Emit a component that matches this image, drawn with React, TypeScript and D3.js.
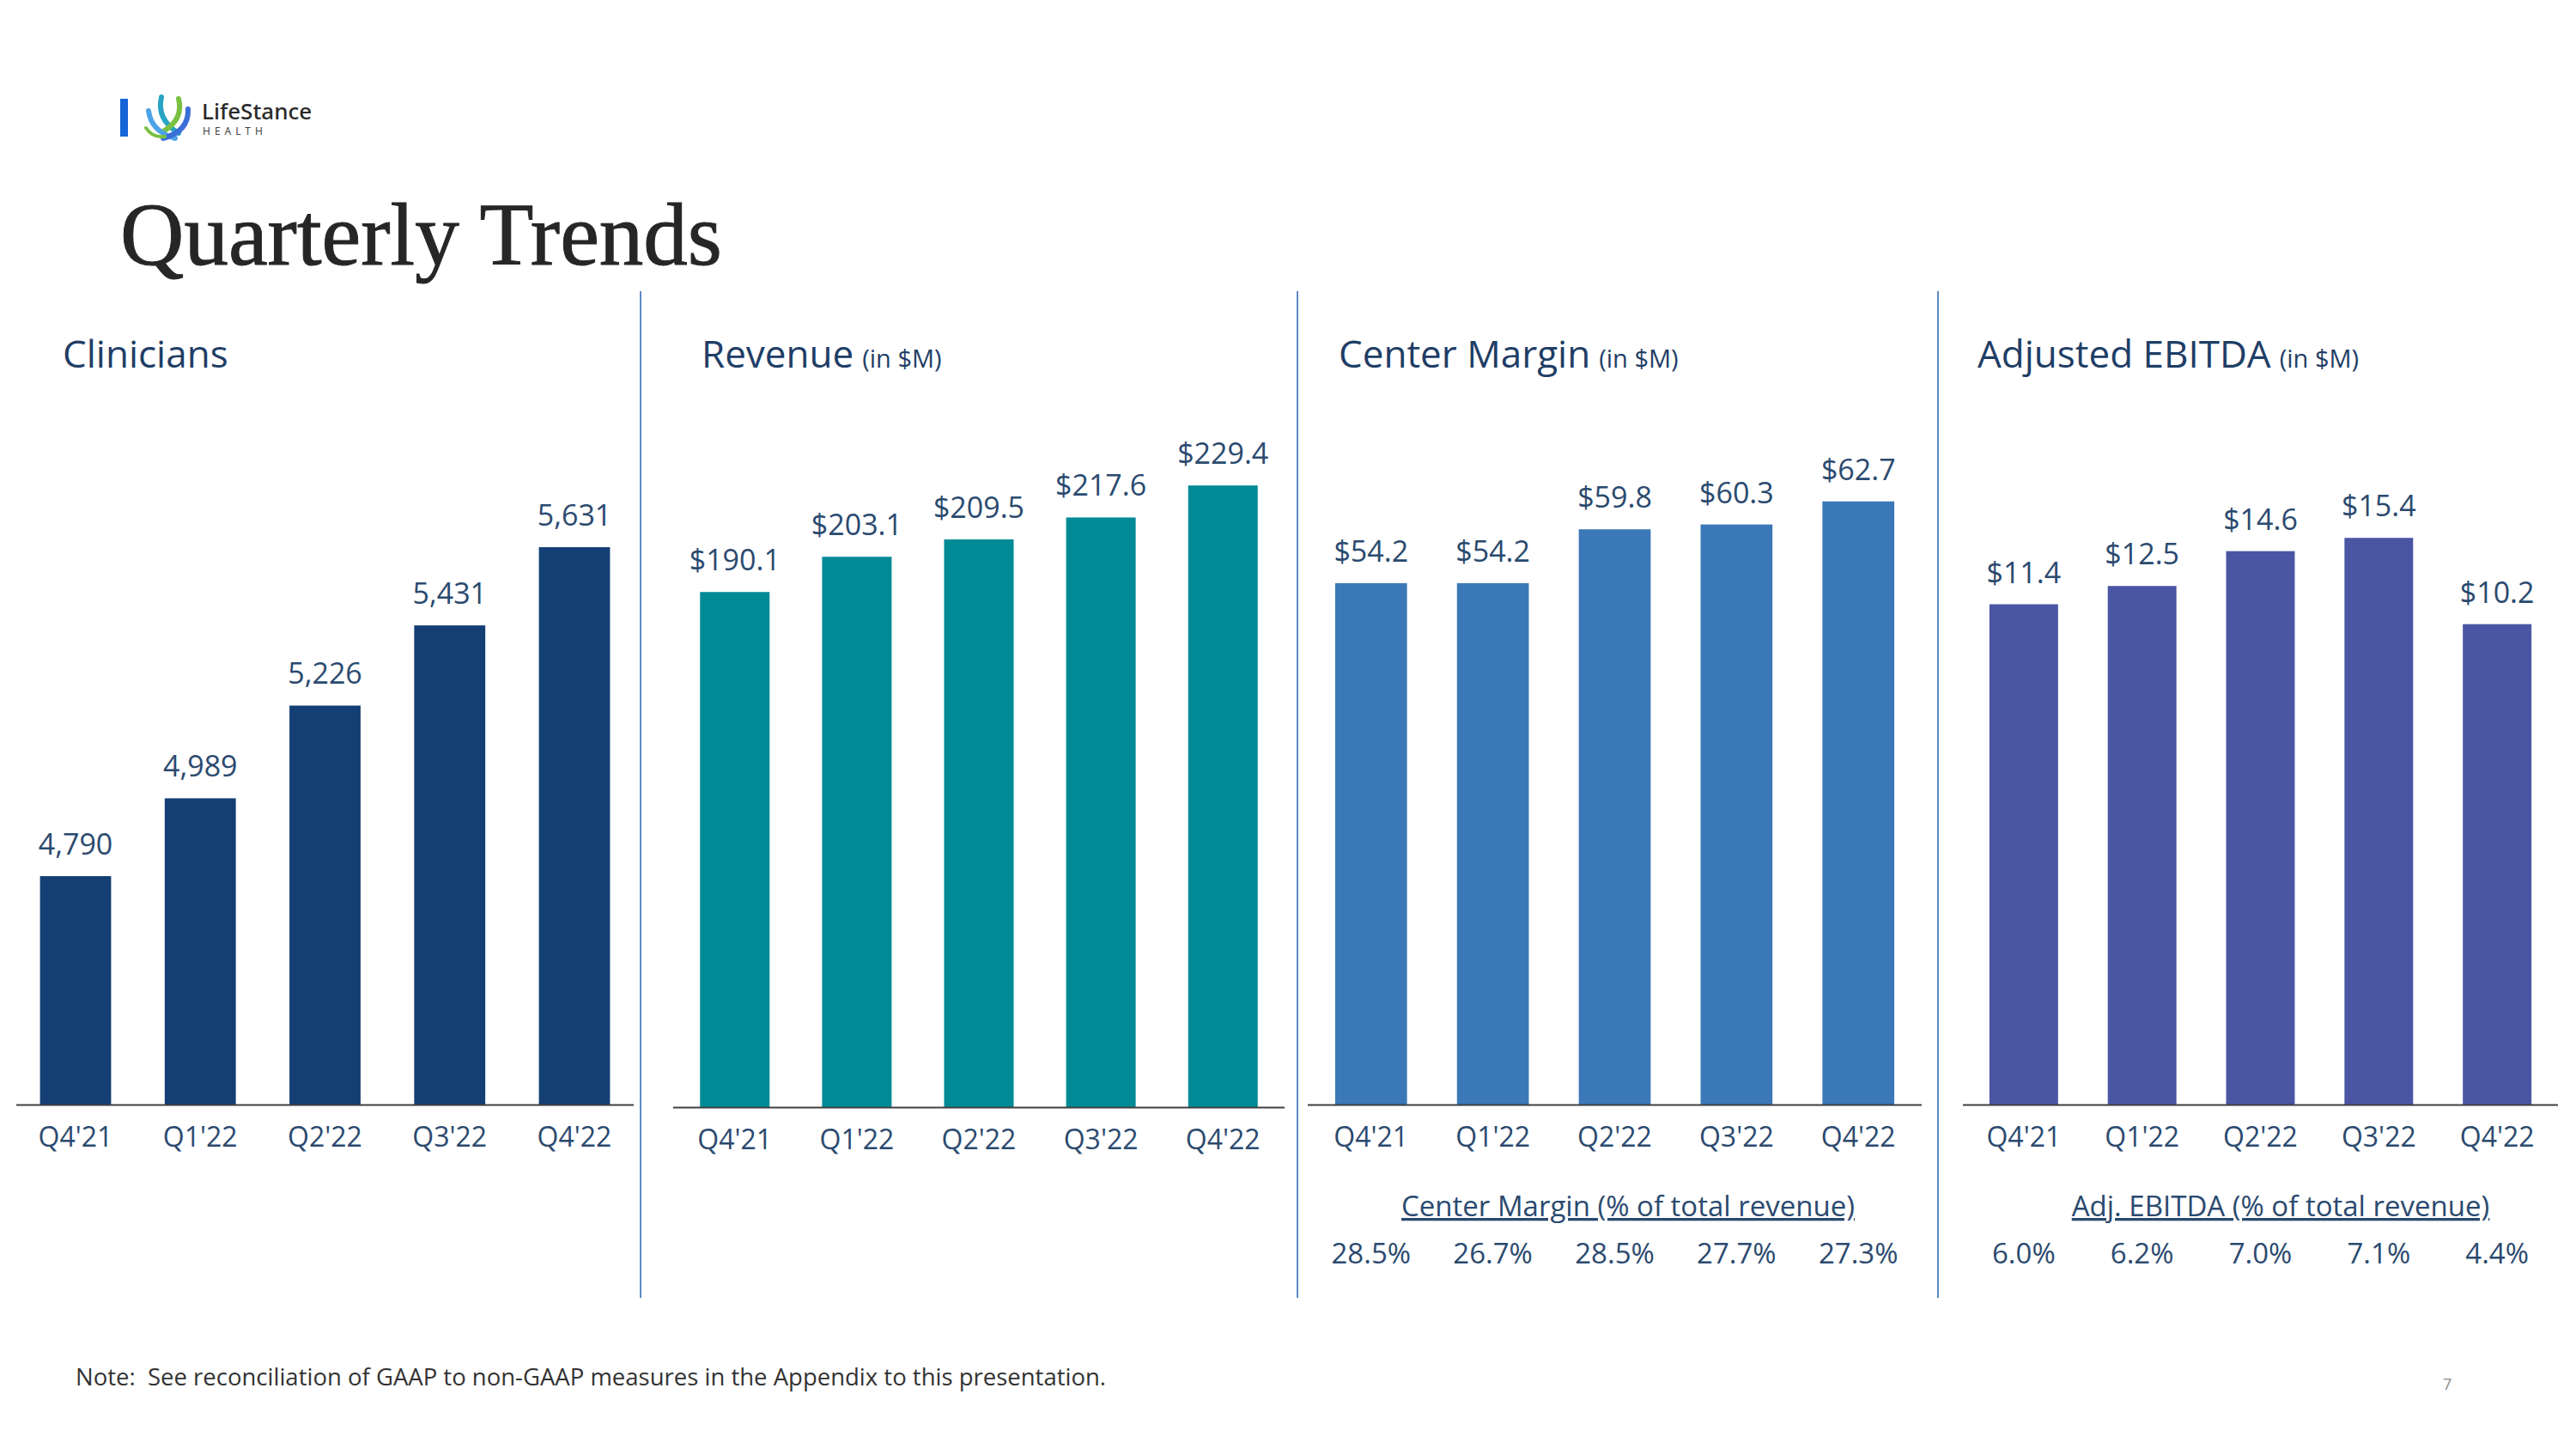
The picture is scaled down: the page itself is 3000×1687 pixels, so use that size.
import React from "react";
import * as d3 from "d3";

const quarters = ["Q4'21", "Q1'22", "Q2'22", "Q3'22", "Q4'22"];
const clinicians = [4790, 4989, 5226, 5431, 5631];
const revenue = [190.1, 203.1, 209.5, 217.6, 229.4];
const centerMargin = [54.2, 54.2, 59.8, 60.3, 62.7];
const adjEbitda = [11.4, 12.5, 14.6, 15.4, 10.2];
const centerMarginPct = [28.5, 26.7, 28.5, 27.7, 27.3];
const adjEbitdaPct = [6.0, 6.2, 7.0, 7.1, 4.4];

const FONT = "'Open Sans', 'Noto Sans', sans-serif";
const LABEL = "#2b4a6f";
const HEAD = "#1f3e66";

type Panel = {
  title: string;
  unit?: string;
  values: number[];
  fmt: (v: number) => string;
  color: string;
  xRange: [number, number];
  pi: number;
  po: number;
  yDomain: [number, number];
  yRange: [number, number];
  titleX: number;
  pct?: number[];
  pctTitle?: string;
  pctTitleX?: number;
};

const panels: Panel[] = [
  {
    title: "Clinicians",
    values: clinicians,
    fmt: d3.format(","),
    color: "#143f74",
    xRange: [19, 738],
    pi: 0.43,
    po: 0.19,
    yDomain: [4206, 6000],
    yRange: [1286, 469],
    titleX: 73,
  },
  {
    title: "Revenue",
    unit: "(in $M)",
    values: revenue,
    fmt: (v) => "$" + d3.format(".1f")(v),
    color: "#008a96",
    xRange: [784, 1496],
    pi: 0.43,
    po: 0.22,
    yDomain: [0, 250],
    yRange: [1289, 500.25],
    titleX: 817,
  },
  {
    title: "Center Margin",
    unit: "(in $M)",
    values: centerMargin,
    fmt: (v) => "$" + d3.format(".1f")(v),
    color: "#3b78b8",
    xRange: [1523, 2238],
    pi: 0.41,
    po: 0.225,
    yDomain: [0, 70],
    yRange: [1286, 502],
    titleX: 1559,
    pct: centerMarginPct,
    pctTitle: "Center Margin (% of total revenue)",
    pctTitleX: 1896,
  },
  {
    title: "Adjusted EBITDA",
    unit: "(in $M)",
    values: adjEbitda,
    fmt: (v) => "$" + d3.format(".1f")(v),
    color: "#4a55a3",
    xRange: [2286, 2979],
    pi: 0.42,
    po: 0.224,
    yDomain: [-18.75, 20],
    yRange: [1286, 537.35],
    titleX: 2303,
    pct: adjEbitdaPct,
    pctTitle: "Adj. EBITDA (% of total revenue)",
    pctTitleX: 2656,
  },
];

const dividers = [746, 1511, 2257];

function ChartPanel({ p }: { p: Panel }) {
  const x = d3.scaleBand<string>().domain(quarters).range(p.xRange).paddingInner(p.pi).paddingOuter(p.po);
  const y = d3.scaleLinear().domain(p.yDomain).range(p.yRange);
  const base = p.yRange[0];
  const bw = x.bandwidth();
  return (
    <g>
      <text x={p.titleX} y={428} fontFamily={FONT} fontSize={44} fill={HEAD}>
        {p.title}
        {p.unit && (
          <tspan fontSize={29} dx={10}>
            {p.unit}
          </tspan>
        )}
      </text>
      {p.values.map((v, i) => {
        const q = quarters[i];
        const x0 = x(q) as number;
        return (
          <g key={q}>
            <rect x={x0} y={y(v)} width={bw} height={base - y(v)} fill={p.color} />
            <text x={x0 + bw / 2} y={y(v) - 25} textAnchor="middle" fontFamily={FONT} fontSize={34} fill={LABEL}>
              {p.fmt(v)}
            </text>
            <text x={x0 + bw / 2} y={base + 49} textAnchor="middle" fontFamily={FONT} fontSize={32} fill={LABEL}>
              {q}
            </text>
            {p.pct && (
              <text x={x0 + bw / 2} y={1471} textAnchor="middle" fontFamily={FONT} fontSize={33} fill={LABEL}>
                {d3.format(".1f")(p.pct[i]) + "%"}
              </text>
            )}
          </g>
        );
      })}
      <line x1={p.xRange[0]} x2={p.xRange[1]} y1={base + 0.5} y2={base + 0.5} stroke="#404040" strokeWidth={2} />
      {p.pctTitle && (
        <text
          x={p.pctTitleX}
          y={1416}
          textAnchor="middle"
          fontFamily={FONT}
          fontSize={33}
          fill={LABEL}
          textDecoration="underline"
        >
          {p.pctTitle}
        </text>
      )}
    </g>
  );
}

function Logo() {
  return (
    <g>
      <rect x={140} y={115} width={9} height={44} fill="#1565d8" />
      <g transform="translate(168,111)" fill="none" strokeLinecap="round">
        <path d="M 20 2 Q 14 28 40 44" stroke="#29a3c4" strokeWidth={6} />
        <path d="M 40 4 Q 46 28 22 42" stroke="#7ac143" strokeWidth={6} />
        <path d="M 5 18 Q 8 42 36 50" stroke="#4da3e8" strokeWidth={6} />
        <path d="M 51 16 Q 52 42 22 50" stroke="#3b6fd8" strokeWidth={6} />
        <path d="M 2 38 Q 10 50 24 48" stroke="#7ac143" strokeWidth={4} />
      </g>
      <text x={235} y={139} fontFamily="'Noto Sans', sans-serif" fontSize={26} fontWeight={500} fill="#2a2a2a">
        LifeStance
      </text>
      <text x={236} y={157} fontFamily="'Noto Sans', sans-serif" fontSize={12} letterSpacing={5} fill="#444">
        HEALTH
      </text>
    </g>
  );
}

export default function App() {
  return (
    <svg
      width={3000}
      height={1687}
      viewBox="0 0 3000 1687"
      style={{ position: "absolute", left: 0, top: 0, background: "#ffffff" }}
    >
      <rect x={0} y={0} width={3000} height={1687} fill="#ffffff" />
      <Logo />
      <text
        x={140}
        y={308}
        fontFamily="'Liberation Serif', serif"
        fontSize={103}
        fill="#262626"
        stroke="#262626"
        strokeWidth={1}
      >
        Quarterly Trends
      </text>
      {dividers.map((d) => (
        <line key={d} x1={d} x2={d} y1={339} y2={1511} stroke="#5b8ac6" strokeWidth={2} />
      ))}
      {panels.map((p) => (
        <ChartPanel key={p.title} p={p} />
      ))}
      <text x={88} y={1613} fontFamily={FONT} fontSize={27.5} fill="#333333" style={{ whiteSpace: "pre" }}>
        Note:  See reconciliation of GAAP to non-GAAP measures in the Appendix to this presentation.
      </text>
      <text x={2845} y={1618} fontFamily={FONT} fontSize={18} fill="#8a8a8a">
        7
      </text>
    </svg>
  );
}
